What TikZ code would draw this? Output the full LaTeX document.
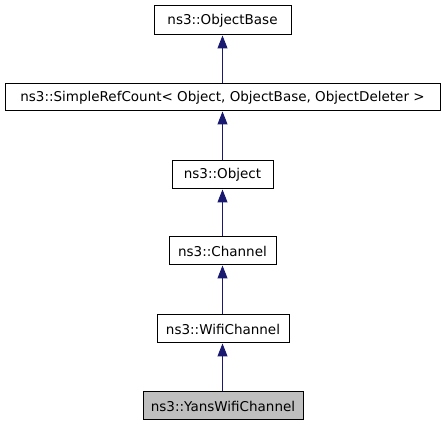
\documentclass[tikz,border=0pt]{standalone}
\usepackage{fontspec}
\setmainfont{DejaVu Sans}
\usetikzlibrary{arrows.meta}
\definecolor{edgeblue}{HTML}{191970}
\definecolor{boxgray}{HTML}{BFBFBF}
\tikzset{
  cls/.style={draw=black, line width=1pt, fill=white, inner sep=0pt, minimum height=28pt, font=\fontsize{13.5}{15}\selectfont},
  inh/.style={draw=edgeblue, line width=1pt, -{Triangle[length=13pt,width=10pt,fill=edgeblue]}}
}
\begin{document}
\begin{tikzpicture}[x=1pt,y=1pt]
\useasboundingbox (0,0) rectangle (445,427);
\node[cls, minimum width=137pt, minimum height=29pt] (base) at (222.5,406.5) {ns3::ObjectBase};
\node[cls, minimum width=435pt, minimum height=27pt] (ref) at (222.5,329.5) {ns3::SimpleRefCount< Object, ObjectBase, ObjectDeleter >};
\node[cls, minimum width=101pt] (obj) at (222.5,252) {ns3::Object};
\node[cls, minimum width=107pt] (chan) at (222.5,176) {ns3::Channel};
\node[cls, minimum width=132pt] (wifi) at (223,98) {ns3::WifiChannel};
\node[cls, minimum width=160pt, fill=boxgray] (yans) at (223,21) {ns3::YansWifiChannel};
\draw[inh] (ref.north -| base) -- (base.south);
\draw[inh] (obj.north -| base) -- (ref.south -| base);
\draw[inh] (chan.north -| base) -- (obj.south -| base);
\draw[inh] (wifi.north -| base) -- (chan.south -| base);
\draw[inh] (yans.north -| base) -- (wifi.south -| base);
\end{tikzpicture}
\end{document}
